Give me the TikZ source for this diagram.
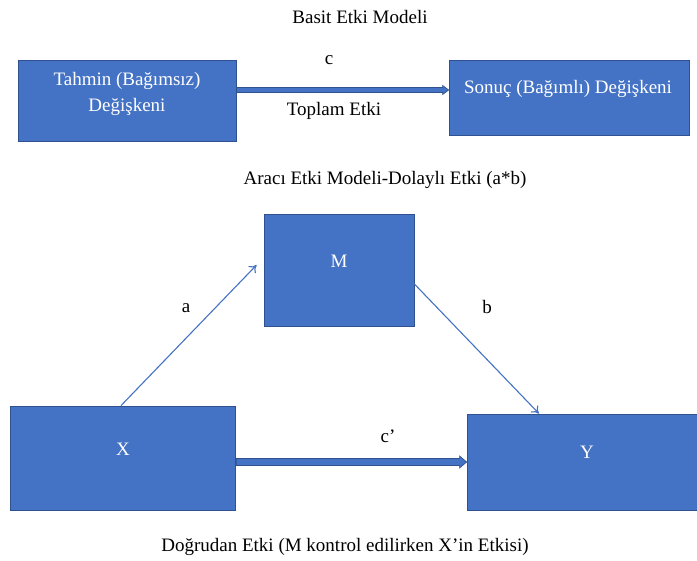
\documentclass[tikz,border=0pt]{standalone}
\usepackage{fontspec}
\setmainfont{Liberation Serif}
\usetikzlibrary{calc,arrows.meta}
\definecolor{boxblue}{HTML}{4472C4}
\definecolor{edgeblue}{HTML}{2F528F}
\begin{document}
\begin{tikzpicture}[x=1pt,y=-1pt,
  box/.style={draw=edgeblue,line width=0.8pt,fill=boxblue,inner sep=0pt,anchor=center},
  boxtext/.style={text=white,font=\fontsize{19}{26}\selectfont,align=center,inner sep=0pt},
  lbl/.style={font=\fontsize{19}{22}\selectfont,inner sep=0pt},
  thin arrow/.style={draw=boxblue,line width=1.1pt,-{To[length=7pt,width=10pt,line width=1.1pt]}},
  block arrow/.style={draw=edgeblue,fill=boxblue,line width=0.7pt,line join=miter}]
\useasboundingbox (0,0) rectangle (697,561);
% top model
\node[lbl] (t1) at (360,17) {Basit Etki Modeli};
\node[box,minimum width=218pt,minimum height=81pt] (T) at (127,100.5) {};
\node[boxtext] (Tt) at (127,94) {Tahmin (Bağımsız)\\Değişkeni};
\node[box,minimum width=240pt,minimum height=75pt] (S) at (569,98.4) {};
\node[boxtext] (St) at (568,89) {Sonuç (Bağımlı) Değişkeni};
\coordinate (c1) at ($(T.east)+(0,-10.5)$);
\coordinate (c2) at (S.west |- c1);
\draw[block arrow] ($(c1)+(0,-2.5)$) -- ($(c2)+(-6,-2.5)$) -- ($(c2)+(-6,-4.5)$) -- (c2)
  -- ($(c2)+(-6,4.5)$) -- ($(c2)+(-6,2.5)$) -- ($(c1)+(0,2.5)$) -- cycle;
\node[lbl] (lc) at (329,60) {c};
\node[lbl] (lt) at (334,111) {Toplam Etki};
% mediation model
\node[lbl] (t2) at (385,180) {Aracı Etki Modeli-Dolaylı Etki (a*b)};
\node[box,minimum width=150pt,minimum height=112pt] (M) at (339,270) {};
\node[boxtext] (Mt) at (339,261) {M};
\node[box,minimum width=225.5pt,minimum height=104pt] (X) at (123,458) {};
\node[boxtext] (Xt) at (123,449) {X};
\node[box,minimum width=230pt,minimum height=96pt] (Y) at (582,462) {};
\node[boxtext] (Yt) at (587,452) {Y};
\draw[thin arrow] ($(X.north)+(-2,0)$) -- ($(M.west)+(-7,-5)$);
\draw[thin arrow] ($(M.east)+(0,14)$) -- ($(Y.north)+(-43,0)$);
\coordinate (d1) at (X.east |- Y.west);
\draw[block arrow] ($(d1)+(0,-3.5)$) -- ($(Y.west)+(-7,-3.5)$) -- ($(Y.west)+(-7,-6)$) -- (Y.west)
  -- ($(Y.west)+(-7,6)$) -- ($(Y.west)+(-7,3.5)$) -- ($(d1)+(0,3.5)$) -- cycle;
\node[lbl] (la) at (186,308) {a};
\node[lbl] (lb) at (487,307) {b};
\node[lbl] (lcp) at (388,436) {c’};
\node[lbl] (t3) at (345,547) {Doğrudan Etki (M kontrol edilirken X’in Etkisi)};
\end{tikzpicture}
\end{document}
